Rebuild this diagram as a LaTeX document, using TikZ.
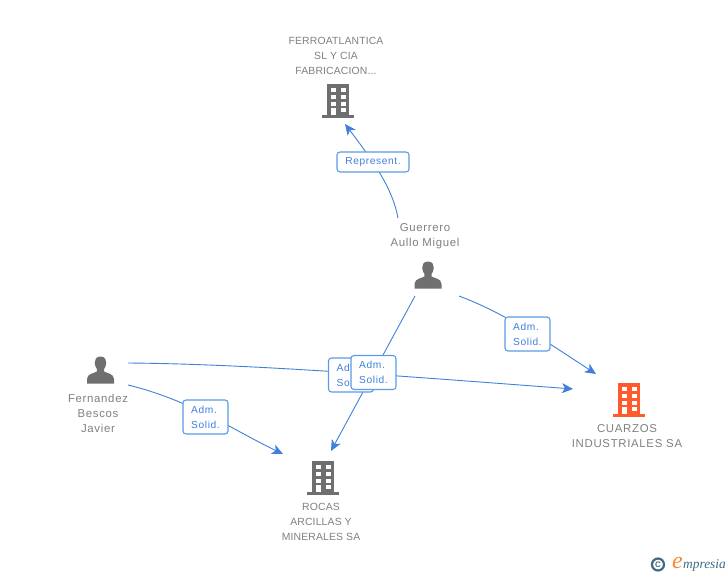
\documentclass[tikz,border=0pt]{standalone}
\usepackage{fontspec}
\setmainfont[LetterSpace=6]{Liberation Sans}
\newfontfamily\logofont{Liberation Serif}
\usepackage{tikz}
\usetikzlibrary{
    arrows.meta,
    positioning,
    calc
}
\definecolor{linkblue}{HTML}{3F80DC}
\definecolor{boxblue}{HTML}{5B9BE6}
\definecolor{icongray}{HTML}{6F6F6F}
\definecolor{textgray}{HTML}{7F7F7F}
\definecolor{iconorange}{HTML}{FF5A2B}
\definecolor{logoblue}{HTML}{3F6A85}
\definecolor{logoorange}{HTML}{F58A32}
\tikzset{
    entity/.style = {
        inner sep=0pt,
        text=textgray,
        align=center,
        font=\fontsize{11.4}{15}\selectfont
    },
    entitycaps/.style = {
        entity,
        font=\fontsize{10.4}{15}\selectfont\addfontfeature{LetterSpace=1.5}
    },
    anchorpt/.style = {
        inner sep=0pt,
        minimum size=30pt
    },
    rolebox/.style = {
        rectangle,
        rounded corners=3pt,
        draw=boxblue,
        line width=1.1pt,
        fill=white,
        text=linkblue,
        align=left,
        inner sep=0pt,
        minimum width=45pt,
        minimum height=34pt,
        font=\fontsize{10.2}{15}\selectfont
    },
    link/.style = {
        -{Stealth[length=11pt,width=10pt,inset=3pt]},
        linkblue,
        line width=0.9pt
    },
    building/.pic = {
        \fill[pic actions] (-11,-16) rectangle (11,15);
        \fill[pic actions] (-16,15) rectangle (16,18);
        \foreach \wx in {-7.3,2.7} \foreach \wy in {-11.7,-5,1.7}
            \fill[white] (\wx,\wy) rectangle ++(5,4);
        \fill[white] (-7.3,8) rectangle (-2.3,15);
        \fill[white] (2.7,8.3) rectangle (7.7,12.3);
    },
    person/.pic = {
        \fill[pic actions] (0,-14.5) .. controls (-4.5,-14.5) and (-6,-11) .. (-5.8,-8)
            .. controls (-5.6,-5) and (-4.5,-3.5) .. (-3.6,-2) -- (-3.6,0.5)
            .. controls (-7,2.5) and (-13.2,2.5) .. (-13.5,8) -- (-13.5,12.5) -- (13.5,12.5) -- (13.5,8)
            .. controls (13.2,2.5) and (7,2.5) .. (3.6,0.5) -- (3.6,-2)
            .. controls (4.5,-3.5) and (5.6,-5) .. (5.8,-8)
            .. controls (6,-11) and (4.5,-14.5) .. (0,-14.5) -- cycle;
    }
}
\begin{document}
\begin{tikzpicture}[x=1pt,y=-1pt]
\useasboundingbox (0,0) rectangle (728,575);

\node (ferro) [anchorpt] at (338,100) {};
\node (rocas) [anchorpt] at (323,477) {};
\node (cuarzos) [anchorpt] at (629,399) {};
\node (guerrero) [anchorpt] at (428,276) {};
\node (fernandez) [anchorpt] at (100.5,371) {};

\pic[fill=icongray] at (ferro) {building};
\pic[fill=icongray] at (rocas) {building};
\pic[fill=iconorange] at (cuarzos) {building};
\pic[fill=icongray] at (guerrero) {person};
\pic[fill=icongray] at (fernandez) {person};

\node (ferrotxt) [entitycaps] at (336,55.5) {FERROATLANTICA\\SL Y CIA\\FABRICACION...};
\node (rocastxt) [entitycaps] at (321,521.5) {ROCAS\\ARCILLAS Y\\MINERALES SA};
\node (cuarzostxt) [entity] at (627,436) {CUARZOS\\INDUSTRIALES SA};
\node (guerrerotxt) [entity] at (425,236) {Guerrero\\Aullo Miguel};
\node (fernandeztxt) [entity] at (98,413) {Fernandez\\Bescos\\Javier};

% free ends of the connectors
\coordinate (g1) at (398,218);
\coordinate (g2) at (459,296);
\coordinate (g3) at (415,296);
\coordinate (f1) at (128,363);
\coordinate (f2) at (128,385);
\coordinate (ferroin) at (345,124);
\coordinate (rocasin) at (331,451);
\coordinate (rocasin2) at (283,454);
\coordinate (cuarzosin) at (596,374);
\coordinate (cuarzosin2) at (573,389);

\draw[link] (g1) .. controls (393,192) and (380,170) .. (ferroin);
\draw[link] (g2) .. controls (505,313) and (550,344) .. (cuarzosin);
\draw[link] (g3) -- (rocasin);
\draw[link] (f1) .. controls (250,364) and (400,376) .. (cuarzosin2);
\draw[link] (f2) .. controls (190,400) and (235,431) .. (rocasin2);

\node (repbox) [rolebox,minimum width=72pt,minimum height=20pt] at (373,162) {Represent.};
\node (admg) [rolebox] at (527.5,334) {Adm.\\Solid.};
\node (admf) [rolebox] at (205.5,417) {Adm.\\Solid.};
\node (admback) [rolebox] at (351,375) {Adm.\\Solid.};
\node (admfront) [rolebox] at (373.5,372.5) {Adm.\\Solid.};

\node (logoc) [circle,draw=logoblue,line width=2.2pt,minimum size=12pt,inner sep=0pt,text=logoblue,
    font=\fontsize{8}{8}\bfseries\selectfont] at (658,564.5) {C};
\node (logoe) [text=logoorange,inner sep=0pt,font=\logofont\itshape\fontsize{24}{24}\selectfont] at (677.5,562.5) {e};
\node (logotxt) [anchor=base west,text=logoblue,inner sep=0pt,
    font=\logofont\itshape\fontsize{13.4}{13.4}\selectfont] at (683,568) {mpresia};
\end{tikzpicture}
\end{document}
